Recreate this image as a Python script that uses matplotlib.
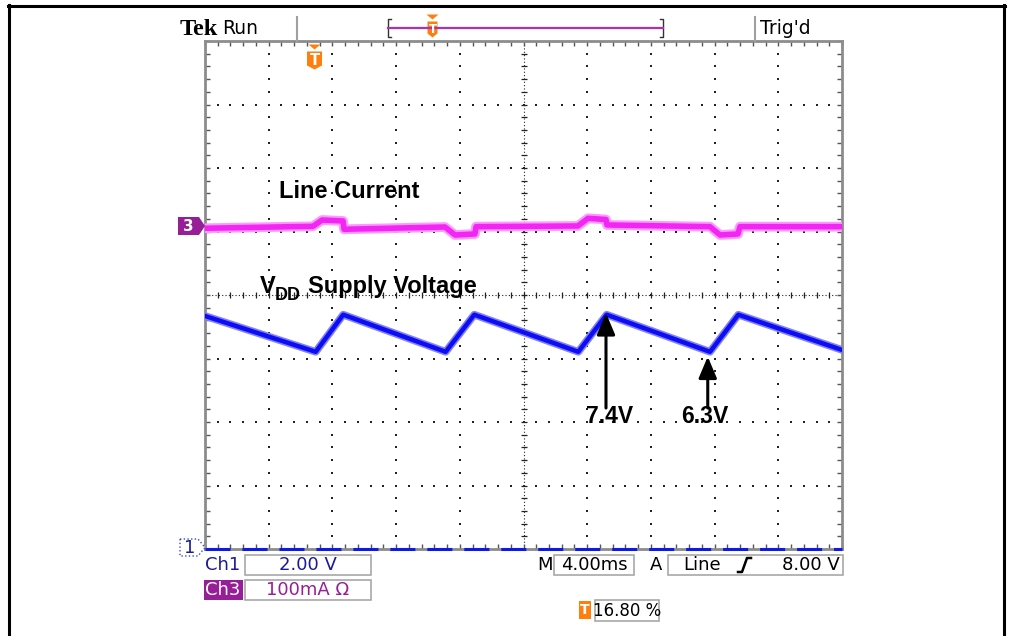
import numpy as np
import matplotlib.pyplot as plt
from matplotlib.patches import Polygon, Rectangle

# Ch1: VDD supply voltage (time in ms, volts)
t_vdd = [0.0, 6.95, 8.68, 15.11, 16.91, 23.44, 25.22, 31.71, 33.49, 40.0]
v_vdd = [7.34, 6.21, 7.38, 6.21, 7.38, 6.21, 7.38, 6.21, 7.38, 6.27]

# Ch3: line current (time in ms, mA)
t_line = [0.0, 6.78, 7.35, 8.67, 8.73, 15.07, 15.70, 16.95, 17.02,
          23.42, 24.05, 25.18, 25.24, 31.71, 32.34, 33.47, 33.59, 40.0]
i_line = [-3.6, -0.5, 9.4, 7.9, -5.2, -1.6, -14.2, -12.6, -1.1,
          0.0, 12.1, 10.2, 1.6, -1.1, -14.2, -12.6, -1.1, -1.1]

# annotated points: (time ms, volts, label)
notes_t = [25.18, 31.57]
notes_v = [7.43, 6.06]
notes_lbl = ['7.4V', '6.3V']

W, H = 1013, 636
L, R, T, B = 205, 842, 41, 549

fig = plt.figure(figsize=(W / 100, H / 100), dpi=100)
ax = fig.add_axes([L / W, 1 - B / H, (R - L) / W, (B - T) / H])
ax.set_xlim(0, 40)      # 4 ms/div
ax.set_ylim(0, 16)      # 2 V/div, Ch1 ground at bottom
ax3 = ax.twinx()
ax3.set_ylim(-508.7, 291.3)  # 100 mA/div
ax3.set_yticks([])
for s in ax3.spines.values():
    s.set_visible(False)

ax.set_xticks(np.arange(0, 41, 4))
ax.set_xticks(np.arange(0, 40.1, 0.8), minor=True)
ax.set_yticks(np.arange(0, 17, 2))
ax.set_yticks(np.arange(0, 16.1, 0.4), minor=True)
ax.tick_params(which='both', direction='in', top=True, right=True,
               labelleft=False, labelbottom=False, length=3.5, width=1, color='#555555')
for s in ax.spines.values():
    s.set_color('#8c8c8c')
    s.set_linewidth(2)

# graticule dots
sub_h = np.arange(1, 50) / 50
sub_v = np.arange(1, 40) / 40
for j in range(1, 8):
    if j != 4:
        ax.scatter(sub_h, np.full_like(sub_h, j / 8), s=1.6, marker='s', color='#222222',
                   lw=0, transform=ax.transAxes, zorder=1)
for k in range(1, 10):
    if k != 5:
        ax.scatter(np.full_like(sub_v, k / 10), sub_v, s=1.6, marker='s', color='#222222',
                   lw=0, transform=ax.transAxes, zorder=1)
ax.plot([0.5, 0.5], [0, 1], transform=ax.transAxes, color='#222222', lw=0.8, ls=(0, (1, 2)), zorder=1)
ax.plot([0, 1], [0.5, 0.5], transform=ax.transAxes, color='#222222', lw=0.8, ls=(0, (1, 2)), zorder=1)
ax.scatter(np.full_like(sub_v, 0.5), sub_v, marker='_', s=20, lw=0.9, color='#222222',
           transform=ax.transAxes, zorder=1)
ax.scatter(sub_h, np.full_like(sub_h, 0.5), marker='|', s=20, lw=0.9, color='#222222',
           transform=ax.transAxes, zorder=1)

# traces
ax.plot(t_vdd, v_vdd, color=(0.5, 0.5, 1.0), lw=5.5, zorder=3)
ax.plot(t_vdd, v_vdd, color=(0.05, 0.05, 0.95), lw=3.2, zorder=4)
ax3.plot(t_line, i_line, color=(1.0, 0.6, 1.0), lw=7, zorder=3)
ax3.plot(t_line, i_line, color=(0.95, 0.15, 0.95), lw=4, zorder=4)
ax.axhline(0, color=(0.05, 0.1, 0.9), lw=2.2, dashes=(8.2, 3.9), clip_on=False, zorder=5)

# arrows
for tx, vy, lbl in zip(notes_t, notes_v, notes_lbl):
    ax.annotate('', xy=(tx, vy), xytext=(tx, 4.44),
                arrowprops=dict(arrowstyle='-|>,head_length=1.3,head_width=0.55',
                                mutation_scale=10, lw=2.2, color='black',
                                shrinkA=0, shrinkB=0), zorder=6)

# overlay in pixel coordinates for the scope chrome
ov = fig.add_axes([0, 0, 1, 1], zorder=5)
ov.set_xlim(0, W)
ov.set_ylim(H, 0)
ov.axis('off')

lab = dict(family='Liberation Sans', weight='bold', color='black', va='baseline')
ov.text(279, 198, 'Line Current', fontsize=17, **lab)
ov.text(260, 293, 'V', fontsize=17, **lab)
ov.text(275, 300, 'DD', fontsize=13, **lab)
ov.text(308, 293, 'Supply Voltage', fontsize=17, **lab)
for x, lbl in zip([610, 705], notes_lbl):
    ov.text(x, 423, lbl, fontsize=16.5, ha='center', **lab)

# page border
ov.plot([8.5, 8.5], [5, H], color='black', lw=2.2)
ov.plot([8, 1005], [5.5, 5.5], color='black', lw=2.2)
ov.plot([1004, 1004], [5, H], color='black', lw=2.2)

# header
ov.text(180, 35, 'Tek', family='Liberation Serif', weight='bold', fontsize=17.5, va='baseline')
ov.text(222, 34, 'Run', family='DejaVu Sans', fontsize=13.5, va='baseline')
ov.text(760, 34, "Trig'd", family='DejaVu Sans', fontsize=13.5, va='baseline')
for x in [297, 755]:
    ov.plot([x, x], [17, 41], color='#a0a0a0', lw=1.5)
ov.plot([391, 388, 388, 391], [19, 19, 37, 37], color='#333333', lw=1)
ov.plot([660, 663, 663, 660], [19, 19, 37, 37], color='#333333', lw=1)
ov.plot([388, 663], [28, 28], color='#b030b0', lw=1.6)

orange = '#ff7f0e'


def tmark(x, y, w, h, fs, shield=True, tri=True):
    if shield:
        pts = [(x - w / 2, y - h / 2), (x + w / 2, y - h / 2), (x + w / 2, y + h / 2 - 3),
               (x, y + h / 2 + 1), (x - w / 2, y + h / 2 - 3)]
    else:
        pts = [(x - w / 2, y - h / 2), (x + w / 2, y - h / 2),
               (x + w / 2, y + h / 2), (x - w / 2, y + h / 2)]
    ov.add_patch(Polygon(pts, closed=True, fc=orange, ec='none'))
    if tri:
        ov.add_patch(Polygon([(x - 6, y - h / 2 - 7), (x + 6, y - h / 2 - 7), (x, y - h / 2 - 2)],
                             closed=True, fc=orange, ec='none'))
    ov.text(x, y + 0.5, 'T', color='white', fontsize=fs, weight='bold', ha='center',
            va='center', family='DejaVu Sans')


tmark(432.5, 29, 10, 15, 8.5)
tmark(314.5, 60, 15, 17, 10.5)
tmark(585, 610, 12, 18, 10, shield=False, tri=False)

# channel markers
purple = '#961e96'
navy = '#1a1a9a'
ov.add_patch(Polygon([(178, 217), (199, 217), (205, 226), (199, 235), (178, 235)],
                     closed=True, fc=purple, ec='none'))
ov.text(188.5, 226.5, '3', color='white', fontsize=11, weight='bold', ha='center', va='center')
ov.add_patch(Polygon([(180, 539), (198, 539), (205, 547.5), (198, 556), (180, 556)],
                     closed=True, fc='white', ec='#3a4ad0', lw=1, ls=':'))
ov.text(189.5, 548, '1', color=navy, fontsize=13, ha='center', va='center')

# status bar
mono = dict(family='DejaVu Sans', fontsize=13, va='center')
box = dict(fc='white', ec='#a8a8a8', lw=1.2)
ov.text(205, 565, 'Ch1', color=navy, **mono)
ov.add_patch(Rectangle((245, 555), 126, 20, **box))
ov.text(308, 565, '2.00 V', color=navy, ha='center', **mono)
ov.add_patch(Rectangle((204, 580), 39, 20, fc=purple, ec='none'))
ov.text(205, 590, 'Ch3', color='white', **mono)
ov.add_patch(Rectangle((245, 580), 126, 20, **box))
ov.text(308, 590, '100mA \u03a9', color=purple, ha='center', **mono)
ov.text(537, 565, 'M', color='black', **mono)
ov.add_patch(Rectangle((554, 555), 80, 20, **box))
ov.text(594, 565, '4.00ms', color='black', ha='center', **mono)
ov.text(650, 565, 'A', color='black', **mono)
ov.add_patch(Rectangle((668, 555), 175, 20, **box))
ov.text(683, 565, 'Line', color='black', **mono)
ov.plot([738, 742, 747, 751], [572, 572, 558, 558], color='black', lw=1.8)
ov.text(840, 565, '8.00 V', color='black', ha='right', **mono)
ov.add_patch(Rectangle((595, 600), 64, 21, **box))
ov.text(627, 611, '16.80 %', color='black', ha='center', family='DejaVu Sans',
        fontsize=12, va='center')

fig.savefig('out.png', dpi=100)
